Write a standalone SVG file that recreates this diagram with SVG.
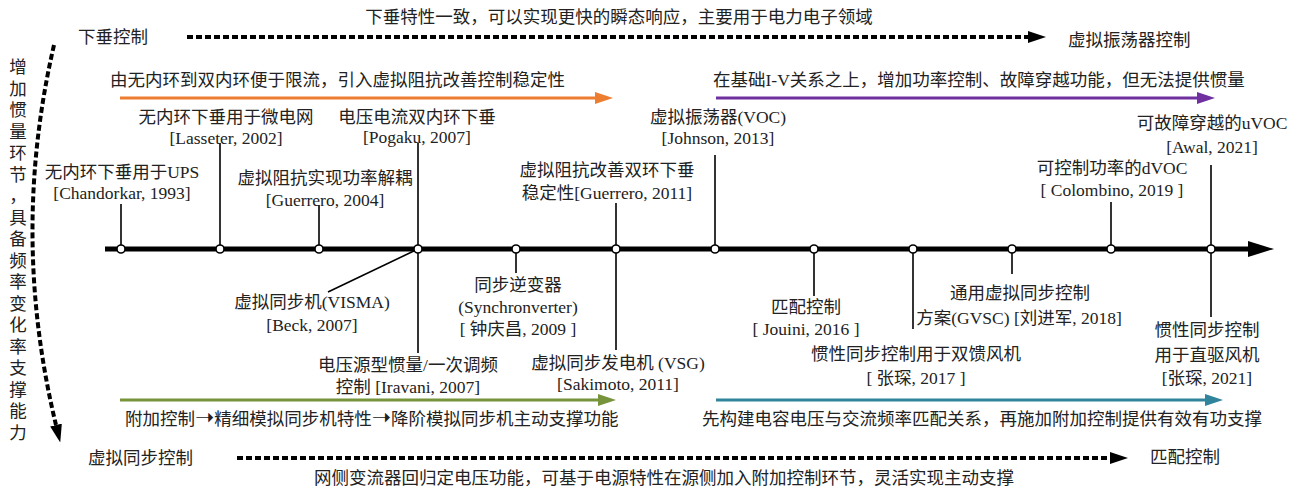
<svg xmlns="http://www.w3.org/2000/svg" width="1300" height="488" viewBox="0 0 1300 488">
<style>
text{font-family:"Liberation Serif","Noto Sans CJK SC",serif;font-size:17.5px;fill:#222}
.m{text-anchor:middle}
.arr{font-family:"DejaVu Sans",sans-serif;font-size:23px}
.stem{stroke:#000;stroke-width:1.6;fill:none}
.dot{fill:#fff;stroke:#000;stroke-width:1.6}
.dash{stroke:#000;stroke-width:4;stroke-dasharray:6 3;fill:none}
</style>
<defs>
<marker id="ahO" markerUnits="userSpaceOnUse" markerWidth="18" markerHeight="12" refX="0" refY="6" orient="auto"><path d="M0,0L18,6L0,12z" fill="#ED7D31"/></marker>
<marker id="ahP" markerUnits="userSpaceOnUse" markerWidth="18" markerHeight="12" refX="0" refY="6" orient="auto"><path d="M0,0L18,6L0,12z" fill="#7030A0"/></marker>
<marker id="ahG" markerUnits="userSpaceOnUse" markerWidth="18" markerHeight="12" refX="0" refY="6" orient="auto"><path d="M0,0L18,6L0,12z" fill="#77933C"/></marker>
<marker id="ahT" markerUnits="userSpaceOnUse" markerWidth="18" markerHeight="12" refX="0" refY="6" orient="auto"><path d="M0,0L18,6L0,12z" fill="#31849B"/></marker>
<marker id="ahK" markerUnits="userSpaceOnUse" markerWidth="18" markerHeight="12" refX="0" refY="6" orient="auto"><path d="M0,0L18,6L0,12z" fill="#000"/></marker>
<marker id="ahA" markerUnits="userSpaceOnUse" markerWidth="26" markerHeight="16" refX="0" refY="8" orient="auto"><path d="M0,0L26,8L0,16z" fill="#000"/></marker>
</defs>

<g id="connectors">
<line x1="187" y1="37" x2="1028" y2="37" class="dash" marker-end="url(#ahK)"/>
<line x1="237" y1="458" x2="1110" y2="458" class="dash" marker-end="url(#ahK)"/>
<path d="M54,45 Q10,235 56,425" class="dash" marker-end="url(#ahK)"/>
<line x1="120" y1="98" x2="595" y2="98" stroke="#ED7D31" stroke-width="3" marker-end="url(#ahO)"/>
<line x1="716" y1="98" x2="1197" y2="98" stroke="#7030A0" stroke-width="3" marker-end="url(#ahP)"/>
<line x1="120" y1="400" x2="598" y2="400" stroke="#77933C" stroke-width="3" marker-end="url(#ahG)"/>
<line x1="716" y1="400" x2="1205" y2="400" stroke="#31849B" stroke-width="3" marker-end="url(#ahT)"/>
<line x1="105" y1="249" x2="1248" y2="249" stroke="#000" stroke-width="5" marker-end="url(#ahA)"/>
<line x1="121" y1="204" x2="121" y2="249" class="stem"/>
<line x1="220" y1="143" x2="220" y2="249" class="stem"/>
<line x1="319" y1="205" x2="319" y2="249" class="stem"/>
<line x1="418" y1="143" x2="418" y2="353" class="stem"/>
<line x1="418" y1="249" x2="328" y2="292" class="stem"/>
<line x1="516" y1="249" x2="516" y2="273" class="stem"/>
<line x1="616" y1="203" x2="616" y2="350" class="stem"/>
<line x1="715" y1="155" x2="715" y2="249" class="stem"/>
<line x1="814" y1="249" x2="814" y2="296" class="stem"/>
<line x1="913" y1="249" x2="913" y2="329" class="stem"/>
<line x1="1012" y1="249" x2="1012" y2="274" class="stem"/>
<line x1="1111" y1="202" x2="1111" y2="249" class="stem"/>
<line x1="1211" y1="165" x2="1211" y2="317" class="stem"/>
</g>

<g id="axis-points">
<circle cx="121" cy="249" r="4" class="dot"/>
<circle cx="220" cy="249" r="4" class="dot"/>
<circle cx="319" cy="249" r="4" class="dot"/>
<circle cx="418" cy="249" r="4" class="dot"/>
<circle cx="516" cy="249" r="4" class="dot"/>
<circle cx="616" cy="249" r="4" class="dot"/>
<circle cx="715" cy="249" r="4" class="dot"/>
<circle cx="814" cy="249" r="4" class="dot"/>
<circle cx="913" cy="249" r="4" class="dot"/>
<circle cx="1012" cy="249" r="4" class="dot"/>
<circle cx="1111" cy="249" r="4" class="dot"/>
<circle cx="1211" cy="249" r="4" class="dot"/>
</g>

<g id="headers">
<text x="619" y="23" class="m">下垂特性一致，可以实现更快的瞬态响应，主要用于电力电子领域</text>
<text x="78" y="43">下垂控制</text>
<text x="1068" y="46">虚拟振荡器控制</text>
<text x="110" y="86">由无内环到双内环便于限流，引入虚拟阻抗改善控制稳定性</text>
<text x="713" y="86">在基础I-V关系之上，增加功率控制、故障穿越功能，但无法提供惯量</text>
<text x="125" y="425">附加控制<tspan class="arr">➝</tspan>精细模拟同步机特性<tspan class="arr">➝</tspan>降阶模拟同步机主动支撑功能</text>
<text x="702" y="425">先构建电容电压与交流频率匹配关系，再施加附加控制提供有效有功支撑</text>
<text x="88" y="464">虚拟同步控制</text>
<text x="1150" y="463">匹配控制</text>
<text x="664" y="484" class="m">网侧变流器回归定电压功能，可基于电源特性在源侧加入附加控制环节，灵活实现主动支撑</text>
</g>

<g id="side-label">
<text x="18" y="73" class="m"><tspan x="18">增</tspan><tspan x="18" dy="21.5">加</tspan><tspan x="18" dy="21.5">惯</tspan><tspan x="18" dy="21.5">量</tspan><tspan x="18" dy="21.5">环</tspan><tspan x="18" dy="21.5">节</tspan><tspan x="18" dy="21.5">，</tspan><tspan x="18" dy="21.5">具</tspan><tspan x="18" dy="21.5">备</tspan><tspan x="18" dy="21.5">频</tspan><tspan x="18" dy="21.5">率</tspan><tspan x="18" dy="21.5">变</tspan><tspan x="18" dy="21.5">化</tspan><tspan x="18" dy="21.5">率</tspan><tspan x="18" dy="21.5">支</tspan><tspan x="18" dy="21.5">撑</tspan><tspan x="18" dy="21.5">能</tspan><tspan x="18" dy="21.5">力</tspan></text>
</g>

<g id="n1993"><text x="122" y="178" class="m">无内环下垂用于UPS</text><text x="122" y="199" class="m">[Chandorkar, 1993]</text></g>
<g id="n2002"><text x="226" y="123" class="m">无内环下垂用于微电网</text><text x="226" y="144" class="m">[Lasseter, 2002]</text></g>
<g id="n2004"><text x="325" y="184" class="m">虚拟阻抗实现功率解耦</text><text x="325" y="206" class="m">[Guerrero, 2004]</text></g>
<g id="n2007a"><text x="417" y="123" class="m">电压电流双内环下垂</text><text x="417" y="143" class="m">[Pogaku, 2007]</text></g>
<g id="n2007b"><text x="312" y="308" class="m">虚拟同步机(VISMA)</text><text x="312" y="331" class="m">[Beck, 2007]</text></g>
<g id="n2007c"><text x="408" y="371" class="m">电压源型惯量/一次调频</text><text x="408" y="393" class="m">控制 [Iravani, 2007]</text></g>
<g id="n2009"><text x="518" y="291" class="m">同步逆变器</text><text x="518" y="313" class="m">(Synchronverter)</text><text x="518" y="335" class="m">[ 钟庆昌, 2009 ]</text></g>
<g id="n2011a"><text x="607" y="176" class="m">虚拟阻抗改善双环下垂</text><text x="607" y="199" class="m">稳定性[Guerrero, 2011]</text></g>
<g id="n2011b"><text x="618" y="369" class="m">虚拟同步发电机 (VSG)</text><text x="618" y="390" class="m">[Sakimoto, 2011]</text></g>
<g id="n2013"><text x="718" y="123" class="m">虚拟振荡器(VOC)</text><text x="718" y="144" class="m">[Johnson, 2013]</text></g>
<g id="n2016"><text x="806" y="313" class="m">匹配控制</text><text x="806" y="335" class="m">[ Jouini, 2016 ]</text></g>
<g id="n2017"><text x="916" y="360" class="m">惯性同步控制用于双馈风机</text><text x="916" y="384" class="m">[ 张琛, 2017 ]</text></g>
<g id="n2018"><text x="1020" y="299" class="m">通用虚拟同步控制</text><text x="1019" y="324" class="m">方案(GVSC) [刘进军, 2018]</text></g>
<g id="n2019"><text x="1112" y="174" class="m">可控制功率的dVOC</text><text x="1112" y="196" class="m">[ Colombino, 2019 ]</text></g>
<g id="n2021a"><text x="1212" y="129" class="m">可故障穿越的uVOC</text><text x="1212" y="153" class="m">[Awal, 2021]</text></g>
<g id="n2021b"><text x="1207" y="336" class="m">惯性同步控制</text><text x="1207" y="361" class="m">用于直驱风机</text><text x="1207" y="384" class="m">[张琛, 2021]</text></g>
</svg>
